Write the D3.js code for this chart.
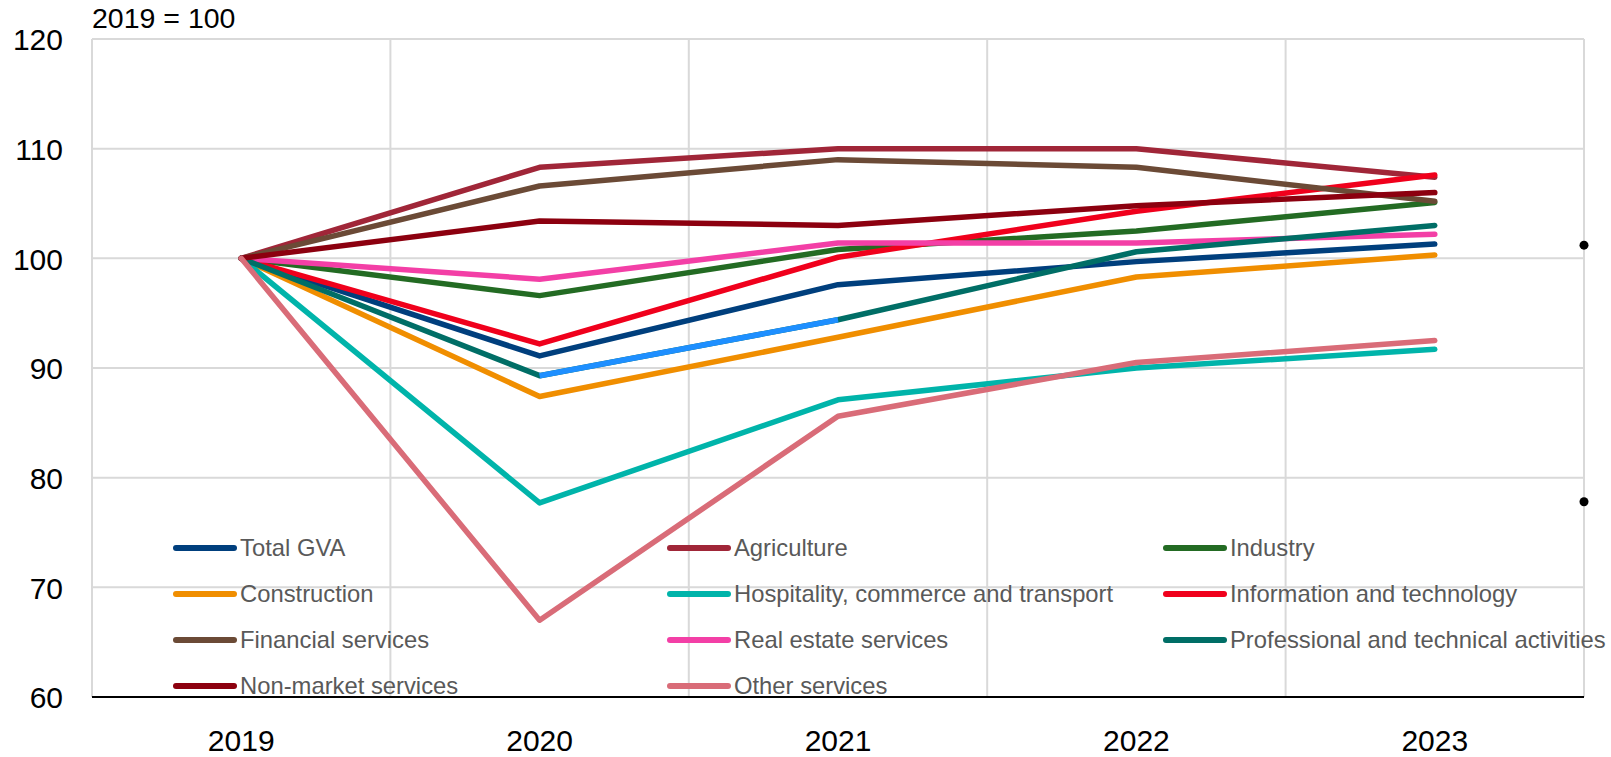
<!DOCTYPE html>
<html>
<head>
<meta charset="utf-8">
<script src="https://cdn.jsdelivr.net/npm/d3@7"></script>
<style>
  html, body { margin: 0; padding: 0; background: #fff; }
  svg { display: block; font-family: "Liberation Sans", Arial, sans-serif; }
</style>
</head>
<body>
<svg id="chart" width="1611" height="757"></svg>
<script>
// ---- Data ----
const years = ["2019", "2020", "2021", "2022", "2023"];
const yTicks = [60, 70, 80, 90, 100, 110, 120];
const unitLabel = "2019 = 100";

const seriesNames = [
  "Total GVA", "Agriculture", "Industry",
  "Construction", "Hospitality, commerce and transport", "Information and technology",
  "Financial services", "Real estate services", "Professional and technical activities",
  "Non-market services", "Other services"
];
const totalGVA      = [100, 91.1, 97.6, 99.7, 101.3];
const agriculture   = [100, 108.3, 110.0, 110.0, 107.4];
const industry      = [100, 96.6, 100.8, 102.5, 105.1];
const construction  = [100, 87.4, 92.8, 98.3, 100.3];
const hospitality   = [100, 77.7, 87.1, 90.0, 91.7];
const infoTech      = [100, 92.2, 100.1, 104.3, 107.6];
const financial     = [100, 106.6, 109.0, 108.3, 105.2];
const realEstate    = [100, 98.1, 101.4, 101.4, 102.2];
const professional  = [100, 89.3, 94.4, 100.6, 103.0];
const nonMarket     = [100, 103.4, 103.0, 104.8, 106.0];
const otherServices = [100, 67.0, 85.6, 90.5, 92.5];
const seriesValues = [totalGVA, agriculture, industry, construction, hospitality, infoTech,
                      financial, realEstate, professional, nonMarket, otherServices];
const seriesColors = ["#003f7d", "#a02638", "#236b23", "#f08e00", "#00b4aa", "#f0001c",
                      "#6b4a36", "#f33fa6", "#006e66", "#8c000f", "#d96c78"];
// segment of the professional series drawn in a different colour (2020 -> 2021)
const highlightSeries = "Professional and technical activities";
const highlightYears = ["2020", "2021"];
const highlightColor = "#1e8fff";
// two stray black markers at the right edge of the plot
const edgeMarkers = [101.2, 77.8];

// ---- Layout ----
const svg = d3.select("#chart");
const pLeft = 92, pRight = 1584, pTop = 39, pBottom = 697;

const x = d3.scaleBand().domain(years).range([pLeft, pRight]).paddingInner(0).paddingOuter(0);
const y = d3.scaleLinear().domain([60, 120]).range([pBottom, pTop]);
const cx = d => x(d) + x.bandwidth() / 2;

// gridlines
const grid = svg.append("g");
grid.selectAll("line.h").data(yTicks.filter(t => t !== 60)).join("line")
  .attr("class", "h")
  .attr("x1", pLeft).attr("x2", pRight)
  .attr("y1", d => y(d)).attr("y2", d => y(d))
  .attr("stroke", "#d9d9d9").attr("stroke-width", 2);
const xBounds = years.map(d => x(d)).concat([pRight]);
grid.selectAll("line.v").data(xBounds).join("line")
  .attr("class", "v")
  .attr("x1", d => d).attr("x2", d => d)
  .attr("y1", pTop).attr("y2", pBottom)
  .attr("stroke", "#d9d9d9").attr("stroke-width", 2);

// y axis (labels only)
const yAxis = d3.axisLeft(y).tickValues(yTicks).tickSize(0).tickPadding(0).tickFormat(d3.format("d"));
const yg = svg.append("g").attr("transform", `translate(63,0)`).call(yAxis);
yg.select(".domain").remove();
yg.selectAll("text").attr("font-size", 30).attr("fill", "#000")
  .attr("font-family", "Liberation Sans, Arial, sans-serif").attr("dy", "0.36em");

// x axis (labels only) + baseline
const xAxis = d3.axisBottom(x).tickSize(0).tickPadding(0);
const xg = svg.append("g").attr("transform", `translate(0,${pBottom})`).call(xAxis);
xg.select(".domain").remove();
xg.selectAll("text").attr("font-size", 30).attr("fill", "#000")
  .attr("font-family", "Liberation Sans, Arial, sans-serif")
  .attr("dy", null).attr("y", 54);
svg.append("line").attr("x1", pLeft).attr("x2", pRight).attr("y1", pBottom).attr("y2", pBottom)
  .attr("stroke", "#000").attr("stroke-width", 2);

// unit label
svg.append("text").attr("x", 92).attr("y", 28).attr("font-size", 28.5).attr("fill", "#000")
  .text(unitLabel);

// lines
const line = d3.line().x((d, i) => cx(years[i])).y(d => y(d));
const lines = svg.append("g");
seriesNames.forEach((name, k) => {
  lines.append("path").datum(seriesValues[k])
    .attr("d", line).attr("fill", "none")
    .attr("stroke", seriesColors[k]).attr("stroke-width", 5.5)
    .attr("stroke-linejoin", "round").attr("stroke-linecap", "round");
  if (name === highlightSeries) {
    const i0 = years.indexOf(highlightYears[0]), i1 = years.indexOf(highlightYears[1]);
    const seg = d3.line().x(d => cx(d[0])).y(d => y(d[1]));
    lines.append("path")
      .datum([[years[i0], seriesValues[k][i0]], [years[i1], seriesValues[k][i1]]])
      .attr("d", seg).attr("fill", "none")
      .attr("stroke", highlightColor).attr("stroke-width", 5.5).attr("stroke-linecap", "butt");
  }
});

// edge markers
svg.append("g").selectAll("circle").data(edgeMarkers).join("circle")
  .attr("cx", pRight).attr("cy", d => y(d)).attr("r", 4.5).attr("fill", "#000");

// legend (3 columns x 4 rows)
const legCols = [176, 670, 1166];
const legRows = [548, 594, 640, 686];
const leg = svg.append("g");
seriesNames.forEach((name, k) => {
  const c = k % 3, r = Math.floor(k / 3);
  const g = leg.append("g").attr("transform", `translate(${legCols[c]},${legRows[r]})`);
  g.append("line").attr("x1", 0).attr("x2", 58).attr("y1", 0).attr("y2", 0)
    .attr("stroke", seriesColors[k]).attr("stroke-width", 6).attr("stroke-linecap", "round");
  g.append("text").attr("x", 64).attr("y", 0).attr("dy", "0.35em")
    .attr("font-size", 23.8).attr("fill", "#595959").text(name);
});
</script>
</body>
</html>
